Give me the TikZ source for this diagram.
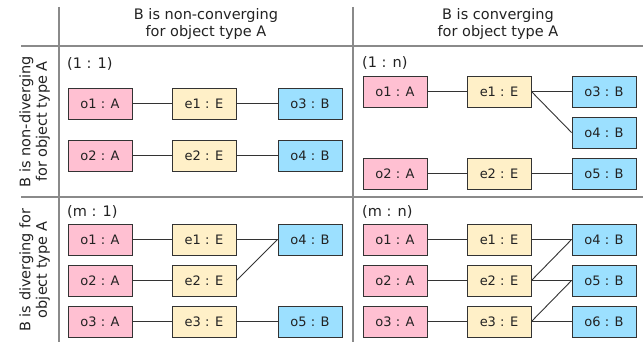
\documentclass[tikz,border=0pt]{standalone}
\usepackage{fontspec}
\setmainfont{DejaVu Sans}
\definecolor{pinkc}{HTML}{FFC0D2}
\definecolor{yelc}{HTML}{FFF0C8}
\definecolor{bluc}{HTML}{9CE0FF}
\definecolor{gridc}{HTML}{8A8A8A}
\definecolor{edgec}{HTML}{333333}
\definecolor{textc}{HTML}{222222}
\begin{document}
\begin{tikzpicture}[x=1pt,y=-1pt,
  gridline/.style={draw=gridc, line width=1.4pt},
  obox/.style={draw=edgec, line width=0.9pt, minimum width=64pt, minimum height=31pt, inner sep=0pt, text=textc, font=\fontsize{13}{15}\selectfont},
  pa/.style={obox, fill=pinkc},
  pe/.style={obox, fill=yelc},
  pb/.style={obox, fill=bluc},
  conn/.style={draw=edgec, line width=0.9pt},
  hdr/.style={align=center, inner sep=0pt, text=textc, font=\fontsize{14.5}{16.5}\selectfont},
  rel/.style={anchor=west, inner sep=0pt, text=textc, font=\fontsize{14.5}{16}\selectfont},
]
\useasboundingbox (0,0) rectangle (643,342);
% grid
\coordinate (v1t) at (59,7);
\coordinate (v1b) at (59,342);
\coordinate (v2t) at (353,7);
\coordinate (v2b) at (353,342);
\coordinate (h1l) at (21,46);
\coordinate (h1r) at (643,46);
\coordinate (h2l) at (21,197);
\coordinate (h2r) at (643,197);
\draw[gridline] (v1t) -- (v1b);
\draw[gridline] (v2t) -- (v2b);
\draw[gridline] (h1l) -- (h1r);
\draw[gridline] (h2l) -- (h2r);
% headers
\node[hdr] (hc1) at (206,24) {B is non-converging\\for object type A};
\node[hdr] (hc2) at (498,24) {B is converging\\for object type A};
\node[hdr, rotate=90] (hr1) at (34.5,121.5) {B is non-diverging\\for object type A};
\node[hdr, rotate=90] (hr2) at (34.5,270) {B is diverging for\\object type A};
% relation labels
\node[rel] (l11) at (67,64) {(1 : 1)};
\node[rel] (l1n) at (362,63) {(1 : n)};
\node[rel] (lm1) at (67,212) {(m : 1)};
\node[rel] (lmn) at (362,212) {(m : n)};
% top-left
\node[pa] (a-o1) at (100,103.5) {o1 : A};
\node[pe] (a-e1) at (204,103.5) {e1 : E};
\node[pb] (a-o3) at (310,103.5) {o3 : B};
\node[pa] (a-o2) at (100,155.5) {o2 : A};
\node[pe] (a-e2) at (204,155.5) {e2 : E};
\node[pb] (a-o4) at (310,155.5) {o4 : B};
\draw[conn] (a-o1) -- (a-e1);
\draw[conn] (a-e1) -- (a-o3);
\draw[conn] (a-o2) -- (a-e2);
\draw[conn] (a-e2) -- (a-o4);
% top-right
\node[pa] (b-o1) at (395,91.5) {o1 : A};
\node[pe] (b-e1) at (499,91.5) {e1 : E};
\node[pb] (b-o3) at (604,91.5) {o3 : B};
\node[pb] (b-o4) at (604,132.5) {o4 : B};
\node[pa] (b-o2) at (395,173.5) {o2 : A};
\node[pe] (b-e2) at (499,173.5) {e2 : E};
\node[pb] (b-o5) at (604,173.5) {o5 : B};
\draw[conn] (b-o1) -- (b-e1);
\draw[conn] (b-e1) -- (b-o3);
\draw[conn] (b-e1.east) -- (b-o4.west);
\draw[conn] (b-o2) -- (b-e2);
\draw[conn] (b-e2) -- (b-o5);
% bottom-left
\node[pa] (c-o1) at (100,239.5) {o1 : A};
\node[pe] (c-e1) at (204,239.5) {e1 : E};
\node[pb] (c-o4) at (310,239.5) {o4 : B};
\node[pa] (c-o2) at (100,280.5) {o2 : A};
\node[pe] (c-e2) at (204,280.5) {e2 : E};
\node[pa] (c-o3) at (100,321.5) {o3 : A};
\node[pe] (c-e3) at (204,321.5) {e3 : E};
\node[pb] (c-o5) at (310,321.5) {o5 : B};
\draw[conn] (c-o1) -- (c-e1);
\draw[conn] (c-e1) -- (c-o4);
\draw[conn] (c-o2) -- (c-e2);
\draw[conn] (c-e2.east) -- (c-o4.west);
\draw[conn] (c-o3) -- (c-e3);
\draw[conn] (c-e3) -- (c-o5);
% bottom-right
\node[pa] (d-o1) at (395,239.5) {o1 : A};
\node[pe] (d-e1) at (499,239.5) {e1 : E};
\node[pb] (d-o4) at (604,239.5) {o4 : B};
\node[pa] (d-o2) at (395,280.5) {o2 : A};
\node[pe] (d-e2) at (499,280.5) {e2 : E};
\node[pb] (d-o5) at (604,280.5) {o5 : B};
\node[pa] (d-o3) at (395,321.5) {o3 : A};
\node[pe] (d-e3) at (499,321.5) {e3 : E};
\node[pb] (d-o6) at (604,321.5) {o6 : B};
\draw[conn] (d-o1) -- (d-e1);
\draw[conn] (d-e1) -- (d-o4);
\draw[conn] (d-o2) -- (d-e2);
\draw[conn] (d-e2) -- (d-o5);
\draw[conn] (d-e2.east) -- (d-o4.west);
\draw[conn] (d-o3) -- (d-e3);
\draw[conn] (d-e3) -- (d-o6);
\draw[conn] (d-e3.east) -- (d-o5.west);
\end{tikzpicture}
\end{document}
